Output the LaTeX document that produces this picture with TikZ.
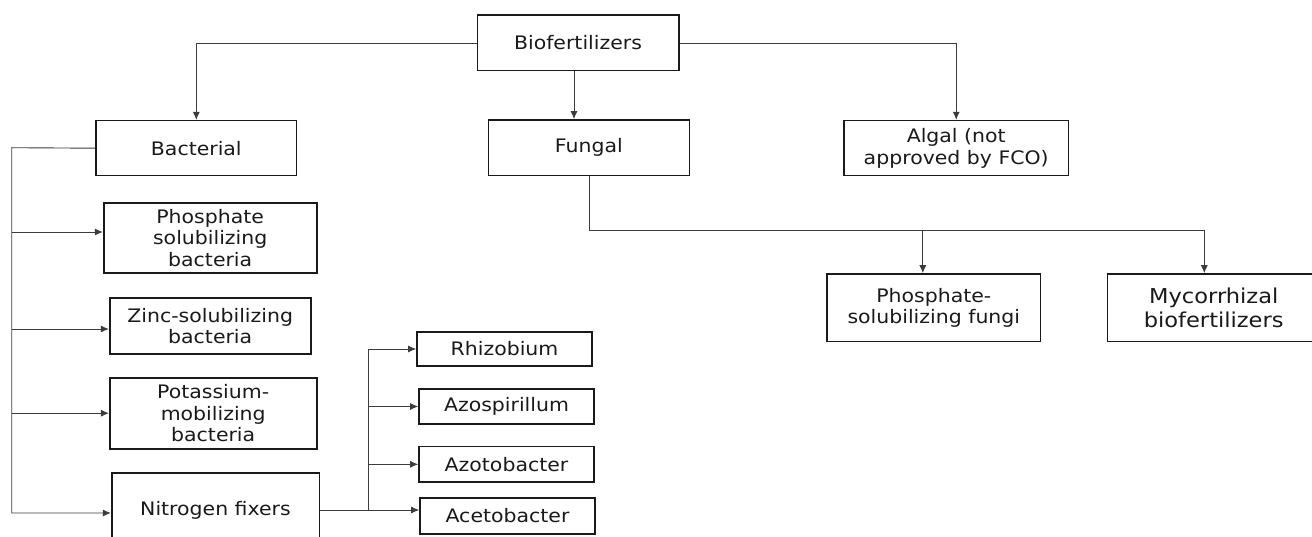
\documentclass[tikz,border=0pt]{standalone}
\usepackage{fontspec}
\setmainfont[FakeStretch=1.1]{DejaVu Sans}
\usetikzlibrary{arrows.meta}
\definecolor{ink}{HTML}{1A1A1A}
\definecolor{wire}{HTML}{3C3C3C}
\tikzset{
  box/.style={draw=ink, line width=1.6pt, text=ink, inner sep=0pt, align=center, rectangle,
    font=\fontsize{18.6}{21.5}\selectfont},
  conn/.style={draw=wire, line width=0.9pt},
  arr/.style={conn, -{Latex[length=8pt,width=7pt]}},
}
\begin{document}
\begin{tikzpicture}[x=1pt,y=-1pt]
\useasboundingbox (0,0) rectangle (1312,537);
\clip (0,0) rectangle (1312,537);
\fill[white] (0,0) rectangle (1312,537);
% top level
\node[box, minimum width=201.4pt, minimum height=55.4pt] (bio) at (578,43) {Biofertilizers};
\node[box, minimum width=200.7pt, minimum height=55pt] (bact) at (196.3,148.2) {Bacterial};
\node[box, minimum width=201pt, minimum height=55.7pt] (fung) at (588.8,147.8) {Fungal};
\node[box, minimum width=224.3pt, minimum height=55pt] (alg) at (956.2,148.2) {Algal (not\\approved by FCO)};
% fungal children
\node[box, minimum width=213.7pt, minimum height=67.7pt] (psf) at (933.8,307.8) {Phosphate-\\solubilizing fungi};
\node[box, font=\fontsize{20.5}{23.3}\selectfont, minimum width=212.8pt, minimum height=67.7pt] (myc) at (1213.7,307.8) {Mycorrhizal\\biofertilizers};
% bacterial children
\node[box, minimum width=213pt, minimum height=70.3pt] (psb) at (210.2,238) {Phosphate\\solubilizing\\bacteria};
\node[box, minimum width=201pt, minimum height=55.7pt] (zinc) at (210.2,326) {Zinc-solubilizing\\bacteria};
\node[box, minimum width=207pt, minimum height=71pt] (pot) at (213.2,413.2) {Potassium-\\mobilizing\\bacteria};
\node[box, minimum width=207.6pt, minimum height=74pt] (nit) at (215.5,510) {Nitrogen fixers};
% nitrogen fixers children
\node[box, minimum width=175pt, minimum height=34.3pt] (rhi) at (504.5,349) {Rhizobium};
\node[box, minimum width=175pt, minimum height=35pt] (azs) at (506.5,406.5) {Azospirillum};
\node[box, minimum width=175pt, minimum height=35.3pt] (azt) at (506.5,464.3) {Azotobacter};
\node[box, minimum width=175pt, minimum height=36pt] (ace) at (507.5,516) {Acetobacter};
% connectors from Biofertilizers
\coordinate (bioOut) at ([xshift=-4pt]bio.south);
\draw[arr] (bio.west) -| (bact.north);
\draw[arr] (bio.east) -| (alg.north);
\draw[arr] (bioOut) -- (bioOut |- fung.north);
% fungal
\coordinate (fj) at (589,230);
\coordinate (psfIn) at ([xshift=-11pt]psf.north);
\coordinate (mycIn) at ([xshift=-9.4pt]myc.north);
\draw[conn] (fung.south -| fj) -- (fj) -- (fj -| mycIn);
\draw[arr] (fj -| psfIn) -- (psfIn);
\draw[arr] (fj -| mycIn) -- (mycIn);
% bacterial bus
\coordinate (lb) at (11.7,147.7);
\coordinate (psbIn) at ([yshift=6pt]psb.west);
\coordinate (zincIn) at ([yshift=-3pt]zinc.west);
\coordinate (nitIn) at ([yshift=-3pt]nit.west);
\draw[arr] (bact.west) -- (lb) |- (nitIn);
\draw[arr] (lb |- psbIn) -- (psbIn);
\draw[arr] (lb |- zincIn) -- (zincIn);
\draw[arr] (lb |- pot.west) -- (pot.west);
% nitrogen fixers bus
\coordinate (aceIn) at ([yshift=6pt]ace.west);
\coordinate (rb) at (368,510);
\draw[arr] (nit.east) -- (aceIn);
\draw[arr] (rb) |- (rhi.west);
\draw[arr] (rb |- azs.west) -- (azs.west);
\draw[arr] (rb |- azt.west) -- (azt.west);
\end{tikzpicture}
\end{document}
